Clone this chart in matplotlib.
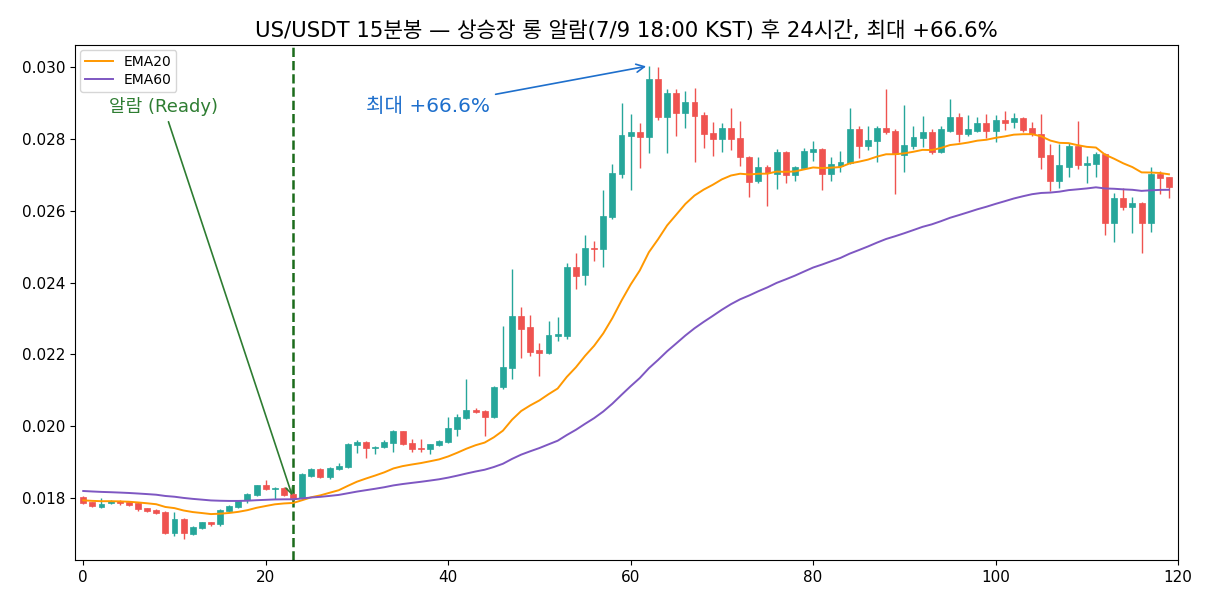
import numpy as np
import matplotlib
matplotlib.use("Agg")
import matplotlib.pyplot as plt

plt.rcParams['font.family'] = ['DejaVu Sans', 'Noto Sans CJK KR']
plt.rcParams['axes.unicode_minus'] = False

# 15m candles, 7/9 18:00 KST alarm -> +24h
opens = [0.01803, 0.01789, 0.01775, 0.01786, 0.01792, 0.01789, 0.01786, 0.01772, 0.01767, 0.01761,
         0.01703, 0.01742, 0.01700, 0.01717, 0.01733, 0.01728, 0.01764, 0.01775, 0.01794, 0.01808,
         0.01836, 0.01825, 0.01828, 0.01811, 0.01800, 0.01861, 0.01881, 0.01858, 0.01881, 0.01886,
         0.01948, 0.01956, 0.01939, 0.01942, 0.01953, 0.01986, 0.01953, 0.01939, 0.01936, 0.01947,
         0.01956, 0.01992, 0.02022, 0.02044, 0.02042, 0.02025, 0.02108, 0.02161, 0.02308, 0.02275,
         0.02211, 0.02203, 0.02250, 0.02250, 0.02444, 0.02422, 0.02497, 0.02492, 0.02583, 0.02703,
         0.02808, 0.02819, 0.02806, 0.02967, 0.02861, 0.02928, 0.02872, 0.02903, 0.02867, 0.02817,
         0.02800, 0.02831, 0.02803, 0.02750, 0.02683, 0.02722, 0.02703, 0.02764, 0.02700, 0.02719,
         0.02764, 0.02772, 0.02703, 0.02725, 0.02733, 0.02828, 0.02781, 0.02794, 0.02831, 0.02822,
         0.02756, 0.02781, 0.02803, 0.02819, 0.02764, 0.02822, 0.02861, 0.02814, 0.02822, 0.02844,
         0.02822, 0.02853, 0.02847, 0.02858, 0.02831, 0.02814, 0.02756, 0.02683, 0.02722, 0.02781,
         0.02728, 0.02731, 0.02758, 0.02567, 0.02636, 0.02611, 0.02622, 0.02567, 0.02703, 0.02694]
highs = [0.01806, 0.01790, 0.01800, 0.01795, 0.01794, 0.01791, 0.01789, 0.01774, 0.01769, 0.01763,
         0.01761, 0.01744, 0.01722, 0.01735, 0.01735, 0.01770, 0.01780, 0.01794, 0.01814, 0.01838,
         0.01850, 0.01830, 0.01830, 0.01815, 0.01869, 0.01884, 0.01883, 0.01886, 0.01897, 0.01953,
         0.01961, 0.01958, 0.01944, 0.01961, 0.01989, 0.01988, 0.01964, 0.01964, 0.01952, 0.01961,
         0.02027, 0.02033, 0.02133, 0.02050, 0.02044, 0.02111, 0.02280, 0.02439, 0.02333, 0.02311,
         0.02233, 0.02294, 0.02303, 0.02455, 0.02481, 0.02533, 0.02516, 0.02658, 0.02731, 0.02900,
         0.02869, 0.02844, 0.03003, 0.03000, 0.02939, 0.02939, 0.02933, 0.02942, 0.02875, 0.02847,
         0.02844, 0.02886, 0.02850, 0.02752, 0.02750, 0.02728, 0.02772, 0.02767, 0.02725, 0.02775,
         0.02794, 0.02775, 0.02750, 0.02767, 0.02886, 0.02836, 0.02836, 0.02836, 0.02939, 0.02828,
         0.02894, 0.02836, 0.02864, 0.02828, 0.02836, 0.02911, 0.02872, 0.02867, 0.02861, 0.02869,
         0.02867, 0.02878, 0.02872, 0.02861, 0.02847, 0.02869, 0.02786, 0.02786, 0.02789, 0.02850,
         0.02753, 0.02764, 0.02761, 0.02650, 0.02664, 0.02639, 0.02625, 0.02722, 0.02711, 0.02694]
lows = [0.01783, 0.01775, 0.01774, 0.01783, 0.01781, 0.01779, 0.01765, 0.01762, 0.01756, 0.01701,
        0.01695, 0.01686, 0.01698, 0.01715, 0.01722, 0.01722, 0.01762, 0.01773, 0.01786, 0.01806,
        0.01822, 0.01797, 0.01806, 0.01795, 0.01798, 0.01858, 0.01856, 0.01853, 0.01879, 0.01884,
        0.01925, 0.01911, 0.01922, 0.01939, 0.01928, 0.01948, 0.01928, 0.01928, 0.01922, 0.01945,
        0.01953, 0.01972, 0.02019, 0.02036, 0.01972, 0.02022, 0.02103, 0.02133, 0.02189, 0.02197,
        0.02141, 0.02200, 0.02236, 0.02244, 0.02381, 0.02394, 0.02461, 0.02444, 0.02578, 0.02692,
        0.02658, 0.02719, 0.02761, 0.02853, 0.02761, 0.02808, 0.02831, 0.02736, 0.02775, 0.02753,
        0.02764, 0.02769, 0.02725, 0.02639, 0.02678, 0.02614, 0.02661, 0.02678, 0.02683, 0.02717,
        0.02739, 0.02658, 0.02683, 0.02708, 0.02731, 0.02747, 0.02769, 0.02736, 0.02814, 0.02647,
        0.02708, 0.02772, 0.02778, 0.02758, 0.02761, 0.02819, 0.02792, 0.02808, 0.02819, 0.02803,
        0.02792, 0.02825, 0.02831, 0.02819, 0.02808, 0.02717, 0.02656, 0.02664, 0.02694, 0.02717,
        0.02678, 0.02694, 0.02531, 0.02514, 0.02603, 0.02539, 0.02483, 0.02542, 0.02647, 0.02636]
closes = [0.01786, 0.01778, 0.01783, 0.01792, 0.01786, 0.01781, 0.01769, 0.01764, 0.01758, 0.01703,
          0.01742, 0.01703, 0.01720, 0.01733, 0.01728, 0.01767, 0.01778, 0.01792, 0.01811, 0.01836,
          0.01825, 0.01828, 0.01808, 0.01800, 0.01867, 0.01881, 0.01858, 0.01883, 0.01889, 0.01950,
          0.01956, 0.01939, 0.01942, 0.01956, 0.01986, 0.01950, 0.01936, 0.01936, 0.01950, 0.01958,
          0.01994, 0.02025, 0.02044, 0.02039, 0.02025, 0.02108, 0.02164, 0.02308, 0.02272, 0.02208,
          0.02203, 0.02253, 0.02256, 0.02444, 0.02419, 0.02497, 0.02492, 0.02586, 0.02706, 0.02811,
          0.02819, 0.02806, 0.02967, 0.02861, 0.02928, 0.02872, 0.02903, 0.02864, 0.02814, 0.02800,
          0.02831, 0.02800, 0.02750, 0.02681, 0.02722, 0.02705, 0.02764, 0.02700, 0.02722, 0.02767,
          0.02772, 0.02703, 0.02731, 0.02736, 0.02828, 0.02781, 0.02797, 0.02831, 0.02819, 0.02758,
          0.02783, 0.02806, 0.02819, 0.02764, 0.02828, 0.02861, 0.02814, 0.02828, 0.02844, 0.02822,
          0.02853, 0.02844, 0.02858, 0.02825, 0.02814, 0.02750, 0.02683, 0.02728, 0.02781, 0.02728,
          0.02733, 0.02758, 0.02567, 0.02636, 0.02611, 0.02622, 0.02567, 0.02703, 0.02692, 0.02667]

# EMA values carried over from before the window
ema20_start = 0.01794
ema60_start = 0.01820

alarm_idx = 23
peak_idx = 62

title = "US/USDT 15분봉 — 상승장 롱 알람(7/9 18:00 KST) 후 24시간, 최대 +66.6%"


def ema(values, span, start):
    a = 2.0 / (span + 1)
    out = [start]
    for v in values[1:]:
        out.append(a * v + (1 - a) * out[-1])
    return np.array(out)


o = np.array(opens)
h = np.array(highs)
l = np.array(lows)
c = np.array(closes)
x = np.arange(len(c))
up = c >= o
col = np.where(up, '#26a69a', '#ef5350')

fig = plt.figure(figsize=(12.1, 6.05), dpi=100)
ax = fig.add_axes([0.062, 0.0744, 0.9116, 0.8512])

ax.vlines(x, l, h, colors=col, linewidth=1.0, zorder=2)
body_lo = np.minimum(o, c)
body_h = np.maximum(np.abs(c - o), 0.00003)
ax.bar(x, body_h, bottom=body_lo, width=0.65, color=col, edgecolor=col, linewidth=0.5, zorder=3)

ax.plot(x, ema(c, 20, ema20_start), color='#ff9800', lw=1.4, label='EMA20', zorder=4)
ax.plot(x, ema(c, 60, ema60_start), color='#7e57c2', lw=1.4, label='EMA60', zorder=4)

ax.axvline(alarm_idx, color='#1b6b1b', ls='--', lw=1.8, zorder=1)

ax.annotate('알람 (Ready)', xy=(alarm_idx, closes[alarm_idx]), xytext=(8.8, 0.02889),
            ha='center', va='center', color='#2e7d32', fontsize=13,
            arrowprops=dict(arrowstyle='->', color='#2e7d32', lw=1.2))
ax.annotate('최대 +66.6%', xy=(peak_idx, highs[peak_idx]), xytext=(37.8, 0.02889),
            ha='center', va='center', color='#1e6fcc', fontsize=14.5,
            arrowprops=dict(arrowstyle='->', color='#1e6fcc', lw=1.2))

ax.set_xlim(-0.9, 120)
ax.set_ylim(0.01628, 0.03061)
ax.set_xticks([0, 20, 40, 60, 80, 100, 120])
ax.set_yticks([0.018, 0.020, 0.022, 0.024, 0.026, 0.028, 0.030])
ax.yaxis.set_major_formatter(matplotlib.ticker.FormatStrFormatter('%.3f'))
ax.tick_params(labelsize=11)
ax.set_title(title, fontsize=15.3)
ax.legend(loc='upper left', fontsize=10, labelspacing=0.3, borderpad=0.35,
          borderaxespad=0.35, handlelength=2.0)

fig.savefig('out.png', dpi=100)
